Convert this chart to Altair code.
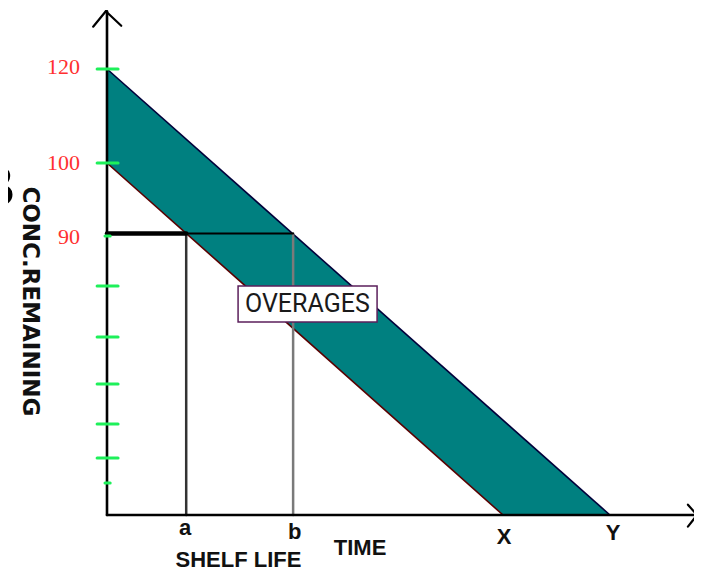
import altair as alt
import pandas as pd

# ---- schematic values ----
level_labels = ["120", "100", "90"]
level_values = [120, 100, 90]
minor_ticks = [73.2, 56.9, 41.9, 29.1, 18.2]   # unlabelled green ticks
dot_ticks = [89.2, 10.2]                      # tiny green marks
upper_start, lower_start = 120, 100           # initial concentrations (with / without overage)
x_time, y_time = 100, 127                     # times at which each line reaches zero
a_time, b_time = 20, 47                       # shelf-life times at the 90 level
shelf_level = 90
axis_x_end, axis_y_end = 149, 132.3
TICK_L, TICK_R = -2.5, 2.8
DOT_L, DOT_R = -0.5, 0.8

# ---- scales (schematic, piecewise on the concentration axis) ----
xs = alt.Scale(domain=[0, 100], range=[99, 495], nice=False, zero=False)
ys = alt.Scale(domain=[0, 90, 100, 120], range=[507, 225.5, 155, 61], nice=False, zero=False)


def X(f):
    return alt.X(f, type="quantitative", scale=xs, axis=None)


def Y(f):
    return alt.Y(f, type="quantitative", scale=ys, axis=None)


def seg_layer(rows, color, width):
    df = pd.DataFrame(rows, columns=["x1", "y1", "x2", "y2"])
    return alt.Chart(df).mark_rule(color=color, strokeWidth=width, strokeCap="round").encode(
        x=X("x1"), y=Y("y1"), x2="x2", y2="y2")


upper_df = pd.DataFrame({"t": [0, y_time], "c": [upper_start, 0], "z": [0, 0]})
lower_df = pd.DataFrame({"t": [0, x_time], "c": [lower_start, 0], "z": [0, 0]})

teal = alt.Chart(upper_df).mark_area(color="#008080", opacity=1).encode(
    x=X("t"), y=Y("c"), y2="z")
white = alt.Chart(lower_df).mark_area(color="white", opacity=1).encode(
    x=X("t"), y=Y("c"), y2="z")
upper_edge = alt.Chart(upper_df).mark_line(color="#00003a", strokeWidth=1.6).encode(x=X("t"), y=Y("c"))
lower_edge = alt.Chart(lower_df).mark_line(color="#5a0000", strokeWidth=1.6).encode(x=X("t"), y=Y("c"))

thick90 = seg_layer([[0, shelf_level, a_time, shelf_level]], "black", 4.5)
thin90 = seg_layer([[a_time, shelf_level, b_time, shelf_level]], "black", 2)
vert_a = seg_layer([[a_time, 0, a_time, shelf_level]], "#333333", 2.5)
vert_b = seg_layer([[b_time, 0, b_time, shelf_level]], "#7a7a7a", 2.5)

axes = seg_layer([[0, 0, 0, axis_y_end], [0, 0, axis_x_end, 0]], "black", 2.6)
arrows = seg_layer([
    [-3.5, 129.0, -0.3, axis_y_end], [-0.3, axis_y_end, 3.6, 129.2],
    [146.7, 3.3, axis_x_end, 0], [axis_x_end, 0, 146.7, -3.7],
], "black", 2.2)

tick_vals = level_values[:2] + minor_ticks
ticks = seg_layer([[TICK_L, v, TICK_R, v] for v in tick_vals], "#1ef05a", 3)
dots = seg_layer([[DOT_L, v, DOT_R, v] for v in dot_ticks], "#1ef05a", 3)

red_df = pd.DataFrame({"label": level_labels, "t": [-6.8] * 3, "c": [120.5, 100, 89.0]})
red_labels = alt.Chart(red_df).mark_text(
    font="Liberation Serif", fontSize=22, color="#ff3030", align="right", baseline="middle"
).encode(x=X("t"), y=Y("c"), text="label:N")

box_df = pd.DataFrame({"x1": [33.1], "x2": [68.2], "y1": [73.2], "y2": [61.7]})
box = alt.Chart(box_df).mark_rect(fill="white", stroke="#5b1f5b", strokeWidth=1.5).encode(
    x=X("x1"), x2="x2", y=Y("y1"), y2="y2")
over_df = pd.DataFrame({"label": ["OVERAGES"], "t": [50.6], "c": [67.4]})
over_text = alt.Chart(over_df).mark_text(
    font="Roboto", fontSize=25, color="#1a1a1a", align="center", baseline="middle"
).encode(x=X("t"), y=Y("c"), text="label:N")

bold_df = pd.DataFrame({
    "label": ["a", "b", "X", "Y", "TIME", "SHELF LIFE"],
    "t": [19.7, 47.4, 100.3, 127.8, 63.9, 33.2],
    "c": [-4.2, -5.4, -6.9, -5.9, -10.7, -14.4],
})
bold_text = alt.Chart(bold_df).mark_text(
    font="Liberation Sans", fontWeight="bold", fontSize=22, color="#111111",
    align="center", baseline="middle"
).encode(x=X("t"), y=Y("c"), text="label:N")

conc_df = pd.DataFrame({"label": ["CONC.REMAINING"], "t": [-19.4], "c": [68.3]})
conc_text = alt.Chart(conc_df).mark_text(
    font="DejaVu Sans", fontWeight="bold", fontSize=23, color="#111111",
    align="center", baseline="middle", angle=90
).encode(x=X("t"), y=Y("c"), text="label:N")

b_df = pd.DataFrame({"label": ["B"], "t": [-23.2], "c": [96.3]})
b_text = alt.Chart(b_df).mark_text(
    font="Liberation Sans", fontWeight="bold", fontSize=58, color="black",
    align="right", baseline="middle"
).encode(x=X("t"), y=Y("c"), text="label:N")

chart = alt.layer(
    teal, white, upper_edge, lower_edge,
    vert_a, vert_b, thick90, thin90,
    axes, arrows, ticks, dots,
    box, over_text, red_labels, bold_text, conc_text, b_text,
).properties(
    width=686, height=563,
    autosize=alt.AutoSizeParams(type="none"),
    padding=0,
).configure_view(stroke=None)

chart.save("out.html", embed_options={"renderer": "svg", "actions": False})
